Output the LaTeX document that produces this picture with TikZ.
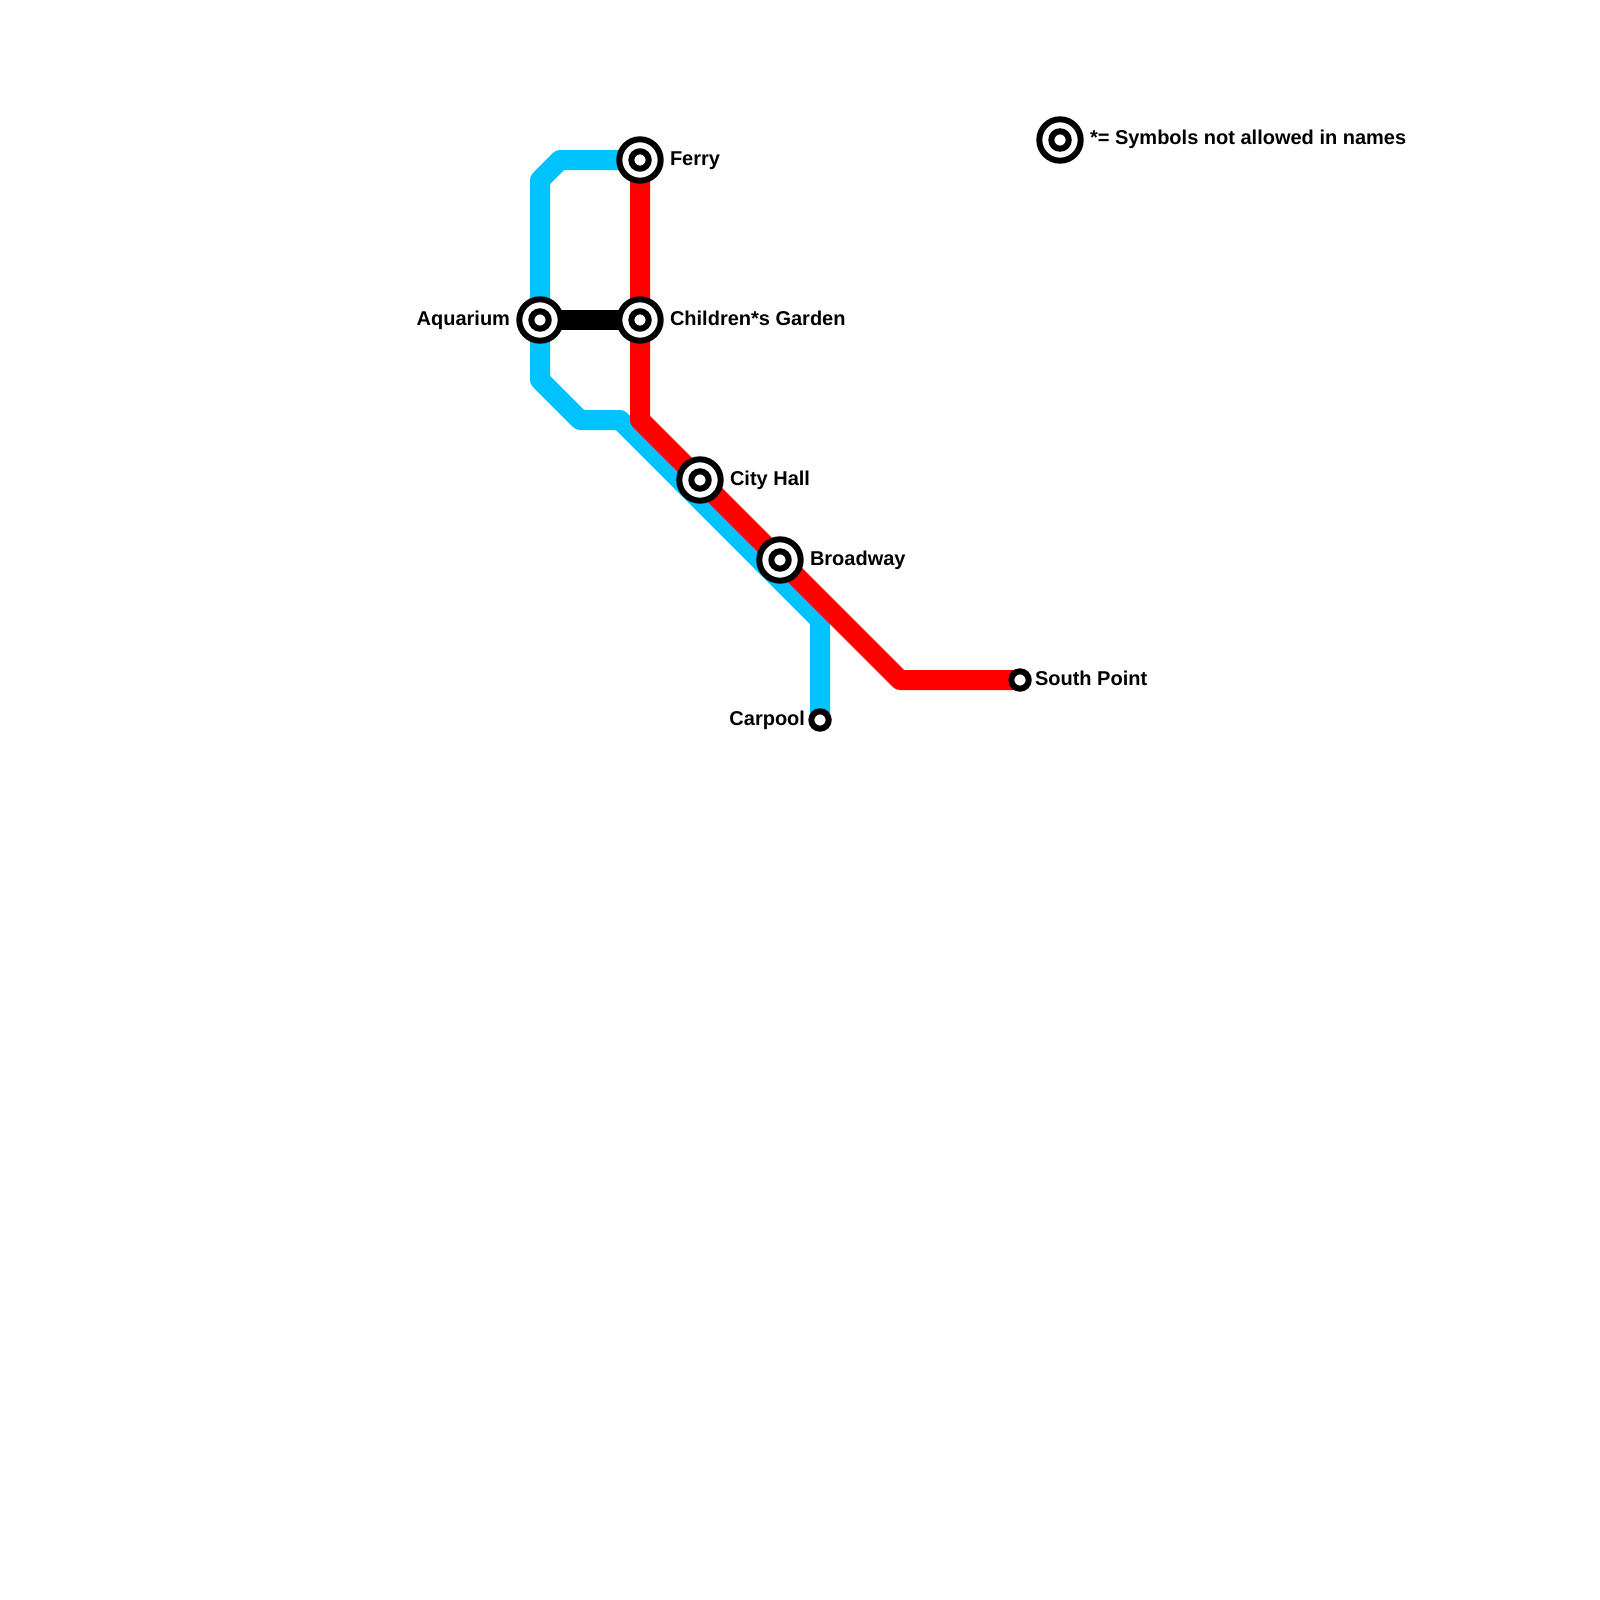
\documentclass[tikz,border=0pt]{standalone}
\usepackage{fontspec}
\setmainfont{Liberation Sans}
\definecolor{lineblue}{RGB}{0,195,255}
\definecolor{linered}{RGB}{255,0,0}
\tikzset{
  x=1pt,y=-1pt,
  metro/.style={line width=20pt,line join=round,line cap=butt},
  bigstation/.style={circle,draw=black,fill=white,line width=6pt,minimum size=41.4pt,inner sep=0pt,outer sep=0pt,
    path picture={\draw[black,line width=6pt] (path picture bounding box.center) circle (8.7pt);}},
  smallstation/.style={circle,draw=black,fill=white,line width=6pt,minimum size=17.4pt,inner sep=0pt,outer sep=0pt},
  lbl/.style={font=\fontsize{20pt}{22pt}\selectfont\bfseries,text=black,inner sep=0pt,outer sep=0pt},
  lblr/.style={lbl,anchor=base west},
  lbll/.style={lbl,anchor=base east},
}
\begin{document}
\begin{tikzpicture}
\useasboundingbox (0,0) rectangle (1600,1600);
\coordinate (ferryP) at (640,160);
\coordinate (aquaP) at (540,320);
\coordinate (childP) at (640,320);
\coordinate (cityP) at (700,480);
\coordinate (broadP) at (780,560);
\coordinate (southP) at (1020,680);
\coordinate (carP) at (820,720);
% lines
\draw[metro,lineblue] (ferryP) -- (560,160) -- (540,180) -- (aquaP) -- (540,380) -- (580,420) -- (620,420) -- (820,620) -- (carP);
\draw[metro,linered] (ferryP) -- (childP) -- (640,420) -- (900,680) -- (southP);
\draw[metro,black] (aquaP) -- (childP);
% stations
\node[bigstation] (ferry) at (ferryP) {};
\node[bigstation] (aqua) at (aquaP) {};
\node[bigstation] (child) at (childP) {};
\node[bigstation] (city) at (cityP) {};
\node[bigstation] (broad) at (broadP) {};
\node[smallstation] (south) at (southP) {};
\node[smallstation] (car) at (carP) {};
\node[bigstation] (legend) at (1060,140) {};
% labels
\node[lblr] (ferrylbl) at (670,165) {Ferry};
\node[lbll] (aqualbl) at (510,325) {Aquarium};
\node[lblr] (childlbl) at (670,325) {Children*s Garden};
\node[lblr] (citylbl) at (730,485) {City Hall};
\node[lblr] (broadlbl) at (810,565) {Broadway};
\node[lblr] (southlbl) at (1035,685) {South Point};
\node[lbll] (carlbl) at (805,725) {Carpool};
\node[lblr] (legendlbl) at (1090,145) {*= Symbols not allowed in names};
\end{tikzpicture}
\end{document}
